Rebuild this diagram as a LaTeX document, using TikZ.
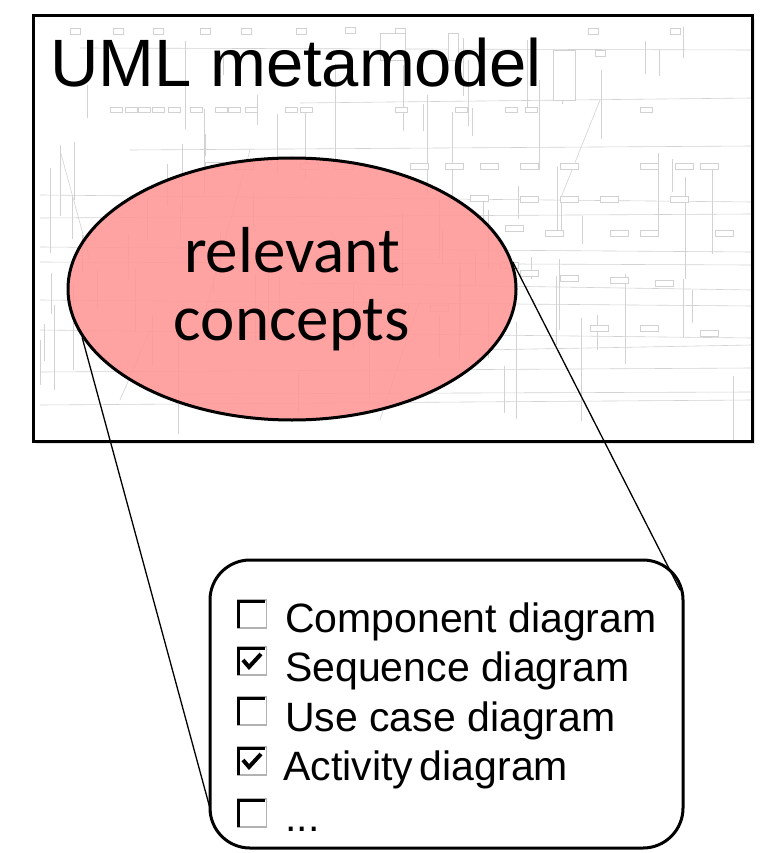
\documentclass[tikz,border=0pt]{standalone}
\usepackage{fontspec}
\setmainfont{Liberation Sans}
\newfontfamily\calib{Carlito}
\usetikzlibrary{shapes.geometric}
\definecolor{relfill}{RGB}{255,150,150}
\definecolor{bgl}{RGB}{210,210,210}
\tikzset{
  frame/.style={draw=black,line width=3pt},
  bgline/.style={draw=bgl,line width=0.6pt},
  bgbox/.style={draw=bgl,line width=0.5pt,fill=white},
  cbox/.style={draw=gray!60,line width=1.4pt,fill=white,minimum width=29pt,minimum height=28pt,inner sep=0pt},
  itemtext/.style={anchor=base west,inner sep=0pt,font=\fontsize{41}{49}\selectfont},
  zoomline/.style={draw=black,line width=1.3pt},
}
\begin{document}
\begin{tikzpicture}[x=1pt,y=-1pt]
\useasboundingbox (0,0) rectangle (774,853);
% main frame shadow
\fill[gray!20] (36,19) rectangle (755,444);
\fill[white] (33,16) rectangle (752,441);
% faint metamodel background
\begin{scope}
\clip (33,16) rectangle (752,441);
\pgfmathsetseed{11}
\foreach \i in {1,...,80}{
  \pgfmathsetmacro\xx{40+rnd*705}
  \pgfmathsetmacro\ya{25+rnd*360}
  \pgfmathsetmacro\yb{\ya+15+rnd*90}
  \draw[bgline] (\xx,\ya) -- (\xx,\yb);
}
\foreach \ya/\yb/\xa in {48/50/80,103/98/300,150/146/130,195/202/40,218/214/40,247/252/40,262/265/40,283/290/300,300/306/40,330/338/40,350/345/480,372/368/40,394/392/180,405/400/40}{
  \draw[bgline] (\xa,\ya) -- (752,\yb);
}
\foreach \xa/\ya/\xb/\yb in {60/150/90/260,250/150/200/330,420/300/380/420,600/100/560/200,150/330/120/400,330/230/380/330}{
  \draw[bgline] (\xa,\ya) -- (\xb,\yb);
}
\foreach \xx/\yy in {70/28,113/28,153/28,200/28,241/28,296/28,345/27,395/28,588/28,595/50,670/28}{
  \draw[bgbox] (\xx,\yy) rectangle ++(10,6);
}
\foreach \xx/\yy in {110/107,125/107,138/107,152/107,168/107,190/107,215/107,228/107,245/107,285/107,300/107,395/107,455/107,505/107,525/107,640/107}{
  \draw[bgbox] (\xx,\yy) rectangle ++(12,5);
}
\foreach \xx/\yy in {205/162,235/163,300/163,335/163,410/163,445/163,480/163,520/163,560/163,640/163,675/163,700/163,470/195,520/196,560/196,600/196,670/196,505/225,545/230,610/230,640/230,715/230,390/305,430/305,500/262,520/270,560/275,610/277,655/280,590/325,640/325,700/330}{
  \draw[bgbox] (\xx,\yy) rectangle ++(18,6);
}
\draw[bgbox] (380,33) rectangle (405,60);
\draw[bgbox] (553,50) rectangle (575,100);
\draw[bgbox] (448,33) rectangle (458,60);
\end{scope}
\draw[frame] (33,16) rectangle (752,441);
% title
\node[anchor=base west,inner sep=0pt,font=\fontsize{67}{80}\selectfont] (title) at (50,87) {UML metamodel};
% ellipse
\node[ellipse,draw=black,line width=3pt,fill=relfill,fill opacity=0.88,text opacity=1,
      minimum width=448pt,minimum height=262pt,inner sep=0pt] (rel) at (292,289) {};
\node[anchor=base,inner sep=0pt,font=\calib\fontsize{65}{68}\selectfont] (t1) at (292,272) {relevant};
\node[anchor=base,inner sep=0pt,font=\calib\fontsize{65}{68}\selectfont] (t2) at (292,340) {concepts};
% list box
\node[draw=black,line width=3pt,rounded corners=40pt,fill=white,minimum width=473pt,minimum height=288pt,inner sep=0pt] (list) at (446.5,704) {};
\coordinate (lend) at (211,812);
\coordinate (rend) at (680,590);
\draw[zoomline] (rel.193) -- (lend);
\draw[zoomline] (rel.7) -- (rend);
% checkboxes
\foreach \n/\yy in {1/614,2/661,3/711,4/761,5/813}{
  \node[cbox] (cb\n) at (252,\yy) {};
  \draw[black,line width=2.8pt] ([xshift=2pt,yshift=1pt]cb\n.south west) |- ([xshift=-2pt,yshift=-2pt]cb\n.north east);
}
\foreach \n in {2,4}{
  \draw[black,line width=4pt,line join=miter] ([xshift=-9pt,yshift=1pt]cb\n.center) -- ([xshift=-3pt,yshift=-6pt]cb\n.center) -- ([xshift=9pt,yshift=7pt]cb\n.center);
}
\node[itemtext] (i1) at (285,632) {Component diagram};
\node[itemtext] (i2) at (285,681) {Sequence diagram};
\node[itemtext] (i3) at (285,731) {Use case diagram};
\node[itemtext] (i4) at (283,780) {Activity\,diagram};
\node[itemtext] (i5) at (285,831) {...};
\end{tikzpicture}
\end{document}
